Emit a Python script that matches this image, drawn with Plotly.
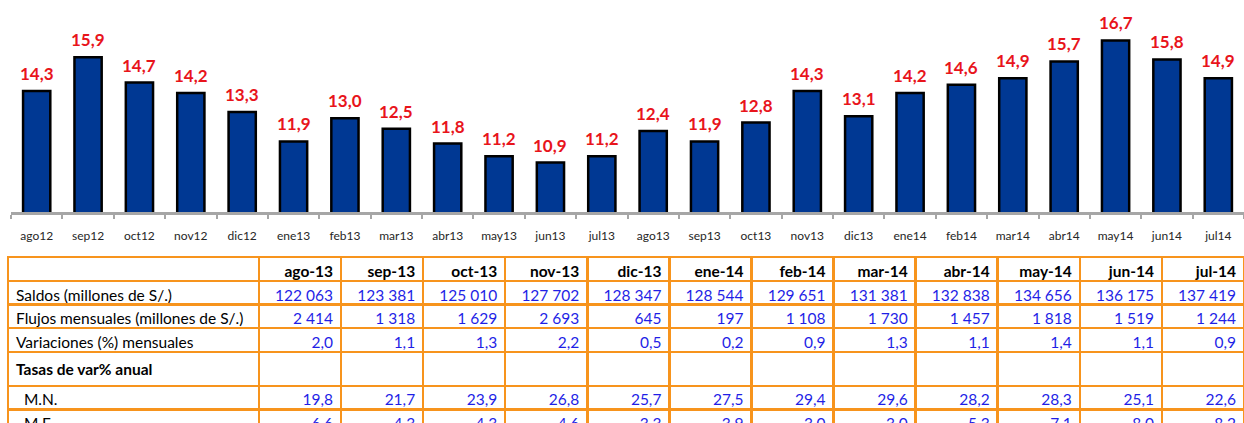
import plotly.graph_objects as go

# ---- Bar chart data ----
months = ["ago12", "sep12", "oct12", "nov12", "dic12", "ene13", "feb13", "mar13",
          "abr13", "may13", "jun13", "jul13", "ago13", "sep13", "oct13", "nov13",
          "dic13", "ene14", "feb14", "mar14", "abr14", "may14", "jun14", "jul14"]
growth = [14.3, 15.9, 14.7, 14.2, 13.3, 11.9, 13.0, 12.5, 11.8, 11.2, 10.9, 11.2,
          12.4, 11.9, 12.8, 14.3, 13.1, 14.2, 14.6, 14.9, 15.7, 16.7, 15.8, 14.9]

# ---- Table data ----
table_months = ["ago-13", "sep-13", "oct-13", "nov-13", "dic-13", "ene-14",
                "feb-14", "mar-14", "abr-14", "may-14", "jun-14", "jul-14"]
row_labels = ["Saldos (millones de S/.)", "Flujos mensuales (millones de S/.)",
              "Variaciones (%) mensuales", "<b>Tasas de var% anual</b>",
              "\u00a0\u00a0M.N.", "\u00a0\u00a0M.E."]
saldos = ["122 063", "123 381", "125 010", "127 702", "128 347", "128 544",
          "129 651", "131 381", "132 838", "134 656", "136 175", "137 419"]
flujos = ["2 414", "1 318", "1 629", "2 693", "645", "197",
          "1 108", "1 730", "1 457", "1 818", "1 519", "1 244"]
variaciones = ["2,0", "1,1", "1,3", "2,2", "0,5", "0,2",
               "0,9", "1,3", "1,1", "1,4", "1,1", "0,9"]
tasas = [""] * 12
mn = ["19,8", "21,7", "23,9", "26,8", "25,7", "27,5",
      "29,4", "29,6", "28,2", "28,3", "25,1", "22,6"]
me = ["6.6", "4.3", "4.3", "4.6", "3.3", "3.9",
      "3.0", "3.0", "5.3", "7.1", "8.0", "8.2"]

W, H = 1244, 423
FONT = "Lato"
BLUE_TXT = "#1f1fe6"
ORANGE = "#f7941d"

fig = go.Figure()

fig.add_trace(go.Bar(
    x=months, y=growth,
    marker=dict(color="#003893", line=dict(color="#000000", width=2.5)),
    xaxis="x", yaxis="y", hoverinfo="skip",
))

for m, v in zip(months, growth):
    fig.add_annotation(
        x=m, y=v, xref="x", yref="y", text=f"{v:.1f}".replace(".", ","),
        showarrow=False, yanchor="bottom", yshift=5,
        font=dict(family=FONT, size=17, color="#e8141b", weight="bold"),
    )

# table columns
columns = [row_labels]
rows = [saldos, flujos, variaciones, tasas, mn, me]
for i in range(12):
    columns.append([r[i] for r in rows])

fig.add_trace(go.Table(
    domain=dict(x=[8 / W, 1.0], y=[0.0, 1 - 257 / H]),
    columnwidth=[251] + [82.1] * 12,
    header=dict(
        values=[" "] + table_months, align=["left"] + ["right"] * 12,
        fill_color="white", line=dict(color=ORANGE, width=2.5),
        font=dict(family=FONT, size=15.5, color="#000000", weight="bold"), height=24,
    ),
    cells=dict(
        values=columns, align=["left"] + ["right"] * 12,
        fill_color="white", line=dict(color=ORANGE, width=2.5),
        font=dict(family=FONT, size=15.5, color=["#000000"] + [BLUE_TXT] * 12),
        height=23.6,
    ),
))

base_y = 1 - 212 / H
fig.update_layout(
    width=W, height=H,
    margin=dict(l=0, r=0, t=0, b=0),
    paper_bgcolor="white", plot_bgcolor="white",
    showlegend=False,
    bargap=0.47,
    xaxis=dict(
        domain=[11 / W, 1.0], range=[-0.5, 23.5], type="category",
        showline=True, linecolor="#a6a6a6", linewidth=2.5,
        ticks="outside", tickson="boundaries", ticklen=4, tickwidth=2, tickcolor="#a6a6a6",
        tickfont=dict(family=FONT, size=12, color="#262626"),
        ticklabelstandoff=11, showgrid=False, fixedrange=True,
    ),
    yaxis=dict(
        domain=[base_y, 0.994], range=[8.55, 18.5],
        visible=False, showgrid=False, zeroline=False, fixedrange=True,
    ),
)

fig.write_html("out.html")
